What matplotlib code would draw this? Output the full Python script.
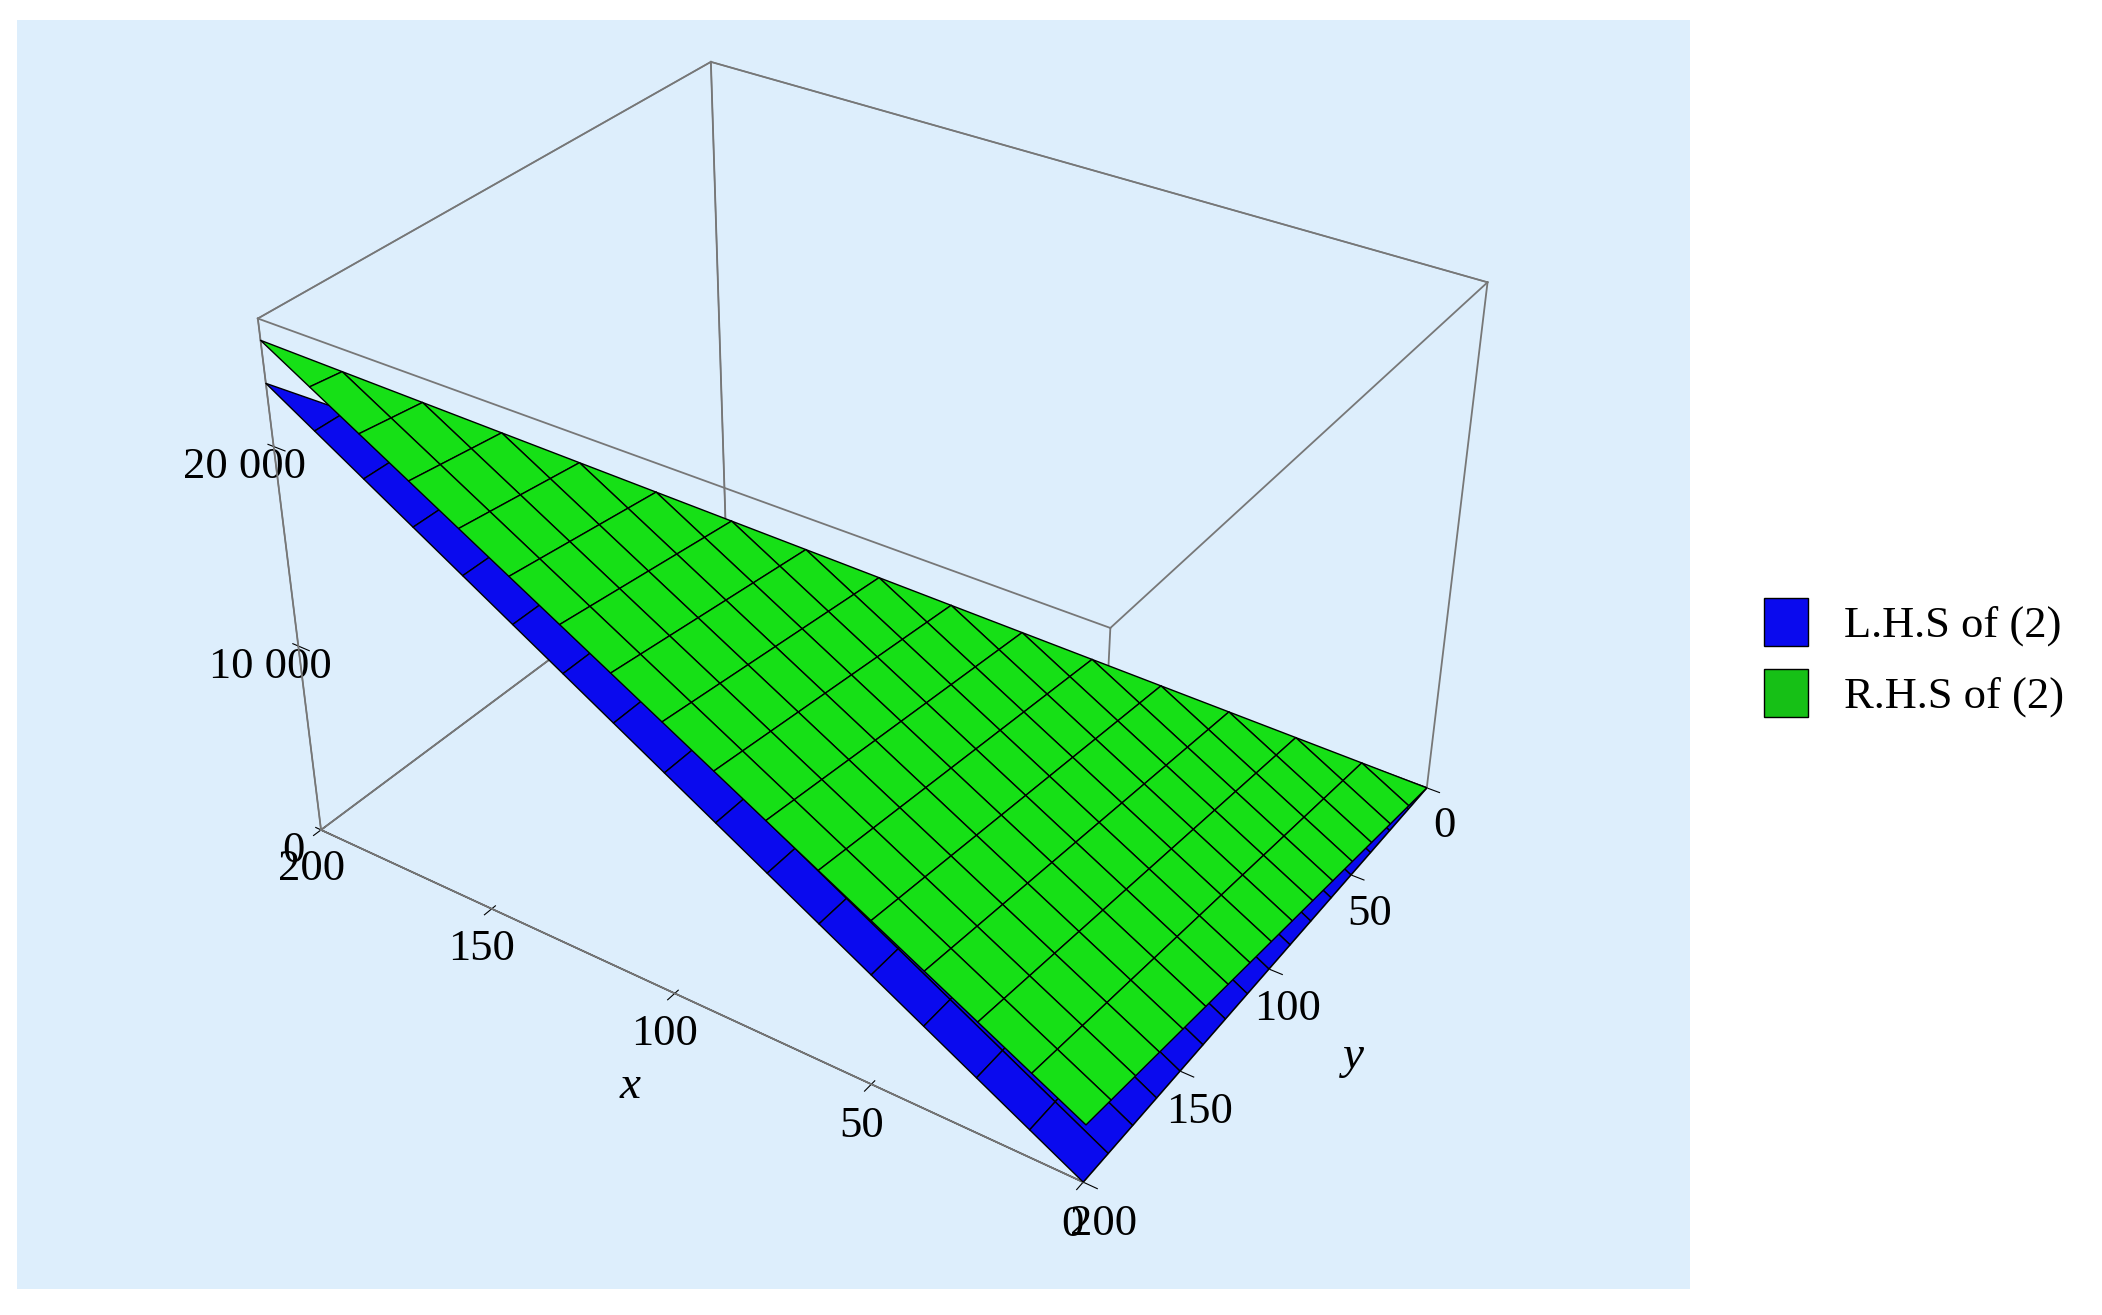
import numpy as np
import matplotlib.pyplot as plt
from matplotlib.patches import Patch
from matplotlib.ticker import FuncFormatter

# grid along x and y (0..200), surfaces only on the triangle x <= y
x_vals = np.linspace(0, 200, 17)
y_vals = np.linspace(0, 200, 17)
lhs_slope_x = 115.0   # L.H.S ~ slope * x  (about 23 000 at x = 200)
rhs_slope_x = 110.0   # R.H.S ~ slope_x * x + slope_y * y
rhs_slope_y = 15.0

X, Y = np.meshgrid(x_vals, y_vals)
lhs = lhs_slope_x * X
rhs = rhs_slope_x * X + rhs_slope_y * Y
mask = X > Y + 1e-9
lhs[mask] = np.nan
rhs[mask] = np.nan

bg = '#ddeefc'
fig = plt.figure(figsize=(21.02, 13.15), dpi=100)
fig.patch.set_facecolor('white')
ax = fig.add_axes([0.0, 0.07, 0.82, 0.97], projection='3d')
fig.patches.append(plt.Rectangle((0.008, 0.02), 0.796, 0.965, transform=fig.transFigure,
                                 facecolor=bg, edgecolor='none', zorder=-10))
ax.set_facecolor('none')

ax.plot_surface(X, Y, lhs, color='#0a0aee', edgecolor='black', linewidth=1.0, shade=False)
ax.plot_surface(X, Y, rhs, color='#16e016', edgecolor='black', linewidth=1.0, shade=False)

zmax = 26000
# full bounding box edges
c = [0, 200]
for a0 in c:
    for b0 in c:
        ax.plot([a0, a0], [b0, b0], [0, zmax], color='#777777', lw=1.3)
        ax.plot([a0, a0], [0, 200], [b0 * zmax / 200] * 2, color='#777777', lw=1.3)
        ax.plot([0, 200], [a0, a0], [b0 * zmax / 200] * 2, color='#777777', lw=1.3)

ax.set_xlim(0, 200)
ax.set_ylim(0, 200)
ax.set_zlim(0, zmax)
ax.set_proj_type('persp', focal_length=0.45)
ax.view_init(elev=33, azim=124)
ax.set_box_aspect((1.3, 1.0, 0.85))
ax.zaxis._axinfo['juggled'] = (1, 0, 2)

for a in (ax.xaxis, ax.yaxis, ax.zaxis):
    a.pane.fill = False
    a.pane.set_edgecolor((0, 0, 0, 0))
    a.line.set_color('black')
    a._axinfo['grid']['linewidth'] = 0
ax.grid(False)
ax.set_xticks([0, 50, 100, 150, 200])
ax.set_yticks([0, 50, 100, 150, 200])
ax.set_zticks([0, 10000, 20000])
ax.zaxis.set_major_formatter(FuncFormatter(lambda v, p: f'{int(v):,}'.replace(',', ' ')))
for a in (ax.xaxis, ax.yaxis, ax.zaxis):
    for t in a.get_ticklabels():
        t.set_family('Liberation Serif')
        t.set_fontsize(32)
ax.set_xlabel('x', fontsize=34, family='Liberation Serif', style='italic', labelpad=30)
ax.set_ylabel('y', fontsize=34, family='Liberation Serif', style='italic', labelpad=30)

handles = [Patch(facecolor='#0a0aee', edgecolor='black', label='L.H.S of (2)'),
           Patch(facecolor='#16c016', edgecolor='black', label='R.H.S of (2)')]
fig.legend(handles=handles, loc='center left', bbox_to_anchor=(0.82, 0.5), frameon=False,
           prop={'family': 'Liberation Serif', 'size': 32}, handlelength=1.0, handleheight=1.3)

fig.savefig('out.png', dpi=100)
